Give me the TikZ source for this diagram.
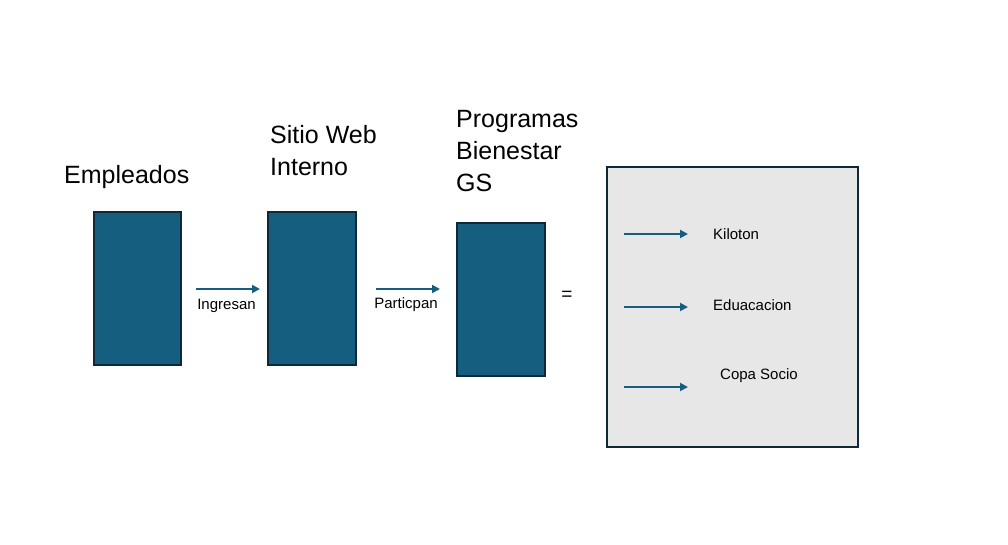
\documentclass[tikz,border=0pt]{standalone}
\usepackage{fontspec}
\setmainfont{Liberation Sans}
\usetikzlibrary{arrows.meta}
\definecolor{boxblue}{RGB}{22,94,128}
\definecolor{boxedge}{RGB}{14,40,55}
\definecolor{panel}{RGB}{231,231,231}
\begin{document}
\begin{tikzpicture}[x=1pt,y=-1pt,
  bluebox/.style={draw=boxedge,fill=boxblue,line width=1.5pt,inner sep=0pt},
  title/.style={anchor=base west,align=left,inner sep=0pt,font=\fontsize{25}{32}\selectfont},
  small/.style={inner sep=0pt,font=\fontsize{15}{17}\selectfont},
  flow/.style={draw=boxblue,line width=1.8pt,-{Triangle[length=8pt,width=8pt]}}]
\useasboundingbox (0,0) rectangle (1008,544);
% boxes
\node[bluebox,minimum width=87pt,minimum height=153pt] (emp) at (137.5,288.5) {};
\node[bluebox,minimum width=88pt,minimum height=153pt] (web) at (312,288.5) {};
\node[bluebox,minimum width=88pt,minimum height=153pt] (prog) at (501,299.5) {};
\node[draw=boxedge,fill=panel,line width=1.5pt,minimum width=251pt,minimum height=280pt,inner sep=0pt] (panelbox) at (732.5,307) {};
% titles (anchored at the baseline of the last line)
\node[title] (t1) at (64,183) {Empleados};
\node[title] (t2) at (270,175) {Sitio Web\\Interno};
\node[title] (t3) at (456,191) {Programas\\Bienestar\\GS};
% main arrows
\coordinate (a1s) at (196,289); \coordinate (a1e) at (260,289);
\coordinate (a2s) at (376,289); \coordinate (a2e) at (440,289);
\draw[flow] (a1s) -- (a1e);
\draw[flow] (a2s) -- (a2e);
\node[small] (l1) at (226.5,306) {Ingresan};
\node[small] (l2) at (406,305) {Particpan};
\node[inner sep=0pt,font=\fontsize{19}{20}\selectfont] (eq) at (567,296) {=};
% inner arrows
\coordinate (b1s) at (624,234); \coordinate (b1e) at (688,234);
\coordinate (b2s) at (624,307); \coordinate (b2e) at (688,307);
\coordinate (b3s) at (624,387); \coordinate (b3e) at (688,387);
\draw[flow] (b1s) -- (b1e);
\draw[flow] (b2s) -- (b2e);
\draw[flow] (b3s) -- (b3e);
\node[small,anchor=west] (k) at (713,234) {Kiloton};
\node[small,anchor=west] (e) at (713,305) {Eduacacion};
\node[small,anchor=west] (c) at (720,376) {Copa Socio};
\end{tikzpicture}
\end{document}
